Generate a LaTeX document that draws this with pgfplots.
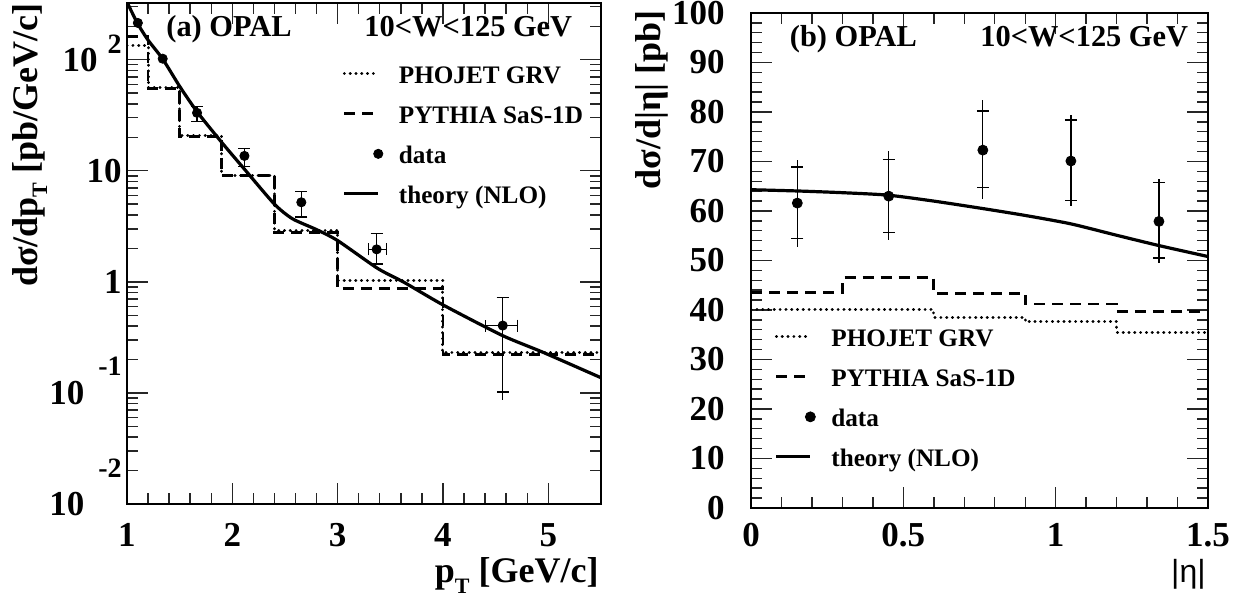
\documentclass[border=0pt]{standalone}
\usepackage{fontspec}
\setmainfont{Liberation Serif}
\newfontfamily\etafont{Liberation Sans}
\usepackage{pgfplots}
\pgfplotsset{compat=1.18}

% fonts (1 px of the reference = 0.5 pt)
\newcommand{\tfont}{\fontsize{17.5}{17.5}\selectfont\bfseries}
\newcommand{\efont}{\fontsize{14}{14}\selectfont\bfseries}
\newcommand{\lfont}{\fontsize{18}{18}\selectfont\bfseries}
\newcommand{\gfont}{\fontsize{12.6}{15}\selectfont\bfseries}
\newcommand{\afont}{\fontsize{15.2}{15}\selectfont\bfseries}

\pgfplotsset{
  rootstyle/.style={
    scale only axis,
    axis line style={line width=1.4pt},
    tick align=inside,
    major tick length=10.5pt,
    minor tick length=5.3pt,
    every tick/.style={black!85, line width=0.7pt},
    tick label style={font=\tfont},
    xticklabel style={inner sep=0pt, anchor=north},
    legend cell align=left,
    legend style={draw=none, fill=none, font=\gfont, row sep=8pt, column sep=8pt,
      inner sep=0pt, outer sep=0pt,
      nodes={inner sep=0pt, text height=9pt, text depth=3pt}},
    legend image code/.code={\draw[#1] (0pt,1.8pt) -- (17pt,1.8pt);},
    error bars/error bar style={line width=0.6pt, black},
    error bars/error mark options={rotate=90, mark size=3pt, line width=0.6pt, black},
  },
  phojet/.style={black, line width=1.5pt, line cap=round, dash pattern=on 0.1pt off 2.8pt, const plot mark left},
  pythia/.style={black, line width=1.4pt, dash pattern=on 5.5pt off 3.5pt, const plot mark left},
  theory/.style={black, line width=1.6pt, smooth, tension=0.4},
  datapt/.style={black, only marks, mark=*, mark size=2.3pt,
    legend image code/.code={\draw[##1] plot coordinates {(17pt,1.8pt)};}},
}

\begin{document}
\begin{tikzpicture}
\useasboundingbox (0,0) rectangle (619pt,300pt);

% ---------------- (a) pT spectrum ----------------
\begin{axis}[rootstyle, name=L,
  at={(63.5pt,48pt)}, anchor=south west,
  width=237pt, height=250.5pt,
  xmin=1, xmax=5.5,
  ymode=log, ymin=0.01, ymax=323.6,
  xtick={1,2,3,4,5}, xticklabels={1,2,3,4,5}, minor x tick num=4,
  xticklabel style={yshift=-9.5pt},
  ytick={0.01,0.1,1,10,100},
  yticklabels={{10\hspace{7pt}\raisebox{19pt}{\efont -2}},
               {10\hspace{7pt}\raisebox{14.5pt}{\efont -1}},
               {1\hspace{11pt}},
               {10\hspace{11pt}},
               {10\hspace{5pt}\raisebox{8.75pt}{\efont 2}}},
  minor ytick={0.02,0.03,0.04,0.05,0.06,0.07,0.08,0.09,
               0.2,0.3,0.4,0.5,0.6,0.7,0.8,0.9,
               2,3,4,5,6,7,8,9,20,30,40,50,60,70,80,90,200,300},
  yticklabel style={anchor=base east, inner sep=0pt, xshift=-2.5pt, yshift=-5.9pt},
  legend style={at={(0.455,0.8754)}, anchor=north west},
]
\addplot[phojet] coordinates {(1,134) (1.2,55.6) (1.5,20.7) (1.9,9.08) (2.4,2.91) (3,1.02) (4,0.229) (5.5,0.229)};
\addlegendentry{PHOJET GRV}
\addplot[pythia] coordinates {(1,161) (1.2,55.0) (1.5,20.4) (1.9,9.0) (2.4,2.77) (3,0.865) (4,0.222) (5.5,0.222)};
\addlegendentry{PYTHIA SaS-1D}
\addplot[datapt] coordinates {(1.103,214) (1.339,102)};
\addlegendentry{data}
\addplot[theory] coordinates {(1.0,330) (1.1,212) (1.2,150) (1.34,101) (1.5,57.5) (1.67,33.5)
  (1.91,17.5) (2.12,10.2) (2.4,5.0) (2.57,3.7) (2.8,2.95) (3.0,2.35) (3.38,1.32)
  (3.63,0.99) (4.0,0.62) (4.56,0.33) (4.95,0.232) (5.5,0.137)};
\addlegendentry{theory (NLO)}
% data with errors
\addplot[datapt, forget plot, error bars/.cd, y dir=both, y explicit]
  table[x=x, y=y, y error plus=eyp, y error minus=eym] {
x      y     eym   eyp
1.665  33.2  5.3   4.9
2.115  13.6  2.7   2.3
2.655  5.2   1.36  1.27
};
\addplot[datapt, forget plot, error bars/.cd, y dir=both, y explicit, x dir=both, x explicit]
  table[x=x, y=y, x error plus=exp, x error minus=exm, y error plus=eyp, y error minus=eym] {
x      y      exm    exp    eym    eyp
3.37   1.96   0.08   0.09   0.51   0.76
4.567  0.404  0.167  0.143  0.302  0.316
};
\addplot[black, only marks, mark=none, forget plot, error bars/.cd, y dir=minus, y explicit, error mark=none]
  table[x=x, y=y, y error minus=eym] {
x      y      eym
4.567  0.404  0.318
};
\node[anchor=base west, inner sep=0pt, font=\afont] at (rel axis cs:0.0823,0.934) {(a) OPAL};
\node[anchor=base west, inner sep=0pt, font=\afont] at (rel axis cs:0.5,0.934) {10<W<125 GeV};
\end{axis}

% ---------------- (b) |eta| distribution ----------------
\begin{axis}[rootstyle, name=R,
  at={(375.5pt,46pt)}, anchor=south west,
  width=228.5pt, height=247.5pt,
  xmin=0, xmax=1.5, ymin=0, ymax=100,
  xtick={0,0.5,1,1.5}, xticklabels={0,0.5,1,1.5}, minor x tick num=4,
  xticklabel style={yshift=-7.5pt},
  ytick={0,10,20,30,40,50,60,70,80,90,100},
  yticklabels={0,10,20,30,40,50,60,70,80,90,100},
  minor y tick num=4,
  yticklabel style={anchor=east, inner sep=0pt, xshift=-13pt},
  legend style={at={(0.052,0.3627)}, anchor=north west},
]
\addplot[phojet] coordinates {(0,40.0) (0.3,40.0) (0.6,38.5) (0.9,37.6) (1.2,35.5) (1.5,35.5)};
\addlegendentry{PHOJET GRV}
\addplot[pythia] coordinates {(0,43.6) (0.3,46.5) (0.6,43.4) (0.9,41.2) (1.2,39.7) (1.5,39.7)};
\addlegendentry{PYTHIA SaS-1D}
% total uncertainty
\addplot[black, only marks, mark=none, forget plot, error bars/.cd, y dir=both, y explicit, error mark=none]
  table[x=x, y=y, y error plus=tp, y error minus=tm] {
x      y     tm    tp
0.152  61.6  8.9   8.8
0.452  63.0  8.9   9.2
0.761  72.3  9.8   10.1
1.050  70.1  9.0   9.3
1.339  57.9  8.4   8.5
};
% statistical uncertainty
\addplot[datapt, mark size=2.5pt, error bars/.cd, y dir=both, y explicit]
  table[x=x, y=y, y error plus=sp, y error minus=sm] {
x      y     sm    sp
0.152  61.6  7.2   7.3
0.452  63.0  7.3   7.4
0.761  72.3  7.6   7.9
1.050  70.1  7.9   8.3
1.339  57.9  7.4   7.8
};
\addlegendentry{data}
\addplot[theory] coordinates {(0,64.3) (0.15,64.05) (0.3,63.7) (0.45,63.2) (0.6,62.0)
  (0.76,60.5) (0.9,59.1) (1.05,57.4) (1.2,55.1) (1.34,53.0) (1.5,50.8)};
\addlegendentry{theory (NLO)}
\node[anchor=base west, inner sep=0pt, font=\afont] at (rel axis cs:0.0842,0.932) {(b) OPAL};
\node[anchor=base west, inner sep=0pt, font=\afont] at (rel axis cs:0.501,0.932) {10<W<125 GeV};
\end{axis}

% axis titles
\node[rotate=90, anchor=base east, inner sep=0pt, font=\lfont] at ([xshift=-45pt]L.north west)
  {dσ/dp\raisebox{-5pt}{\fontsize{11}{11}\selectfont T} [pb/GeV/c]};
\node[anchor=base east, inner sep=0pt, font=\lfont] at ([xshift=-1pt, yshift=-39.5pt]L.south east)
  {p\raisebox{-5pt}{\fontsize{11}{11}\selectfont T} [GeV/c]};
\node[rotate=90, anchor=base east, inner sep=0pt, font=\lfont] at ([xshift=-45.5pt, yshift=1.5pt]R.north west)
  {dσ/d|η| [pb]};
\node[anchor=base east, inner sep=0pt, font=\etafont\fontsize{16}{16}\selectfont] at ([xshift=-1pt, yshift=-37.5pt]R.south east)
  {|η|};
\end{tikzpicture}
\end{document}
